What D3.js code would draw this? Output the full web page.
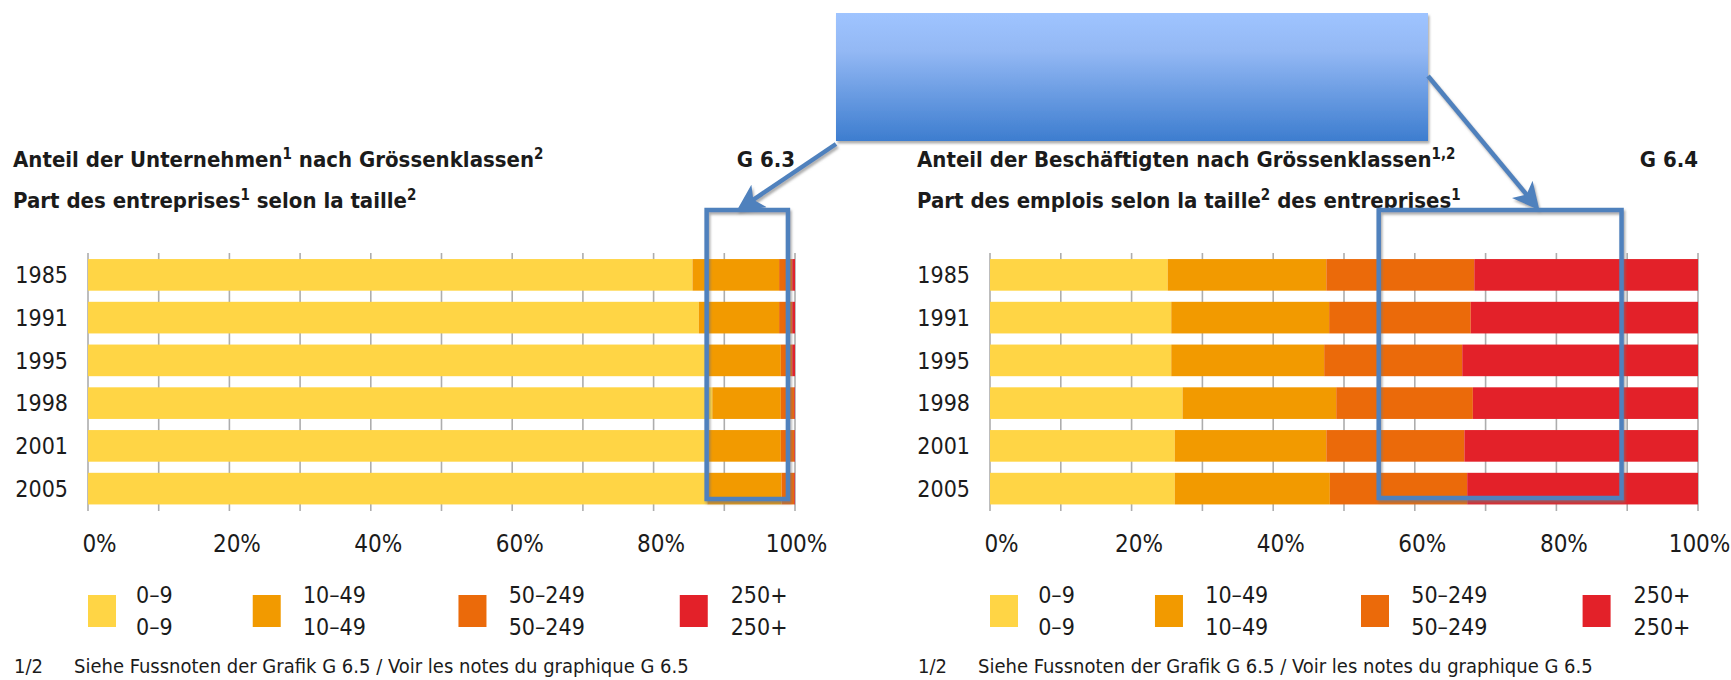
<!DOCTYPE html>
<html>
<head>
<meta charset="utf-8">
<script src="https://cdn.jsdelivr.net/npm/d3@7"></script>
<style>
  body { margin: 0; background: #fff; }
  svg { display: block; }
  text { font-family: "Liberation Sans Narrow", "Arial Narrow", "DejaVu Sans Condensed", "Liberation Sans", sans-serif; fill: #1b1b1b; }
</style>
</head>
<body>
<svg id="chart" width="1731" height="680"></svg>
<script>
// categories
const years = ["1985", "1991", "1995", "1998", "2001", "2005"];
const sizeClasses = ["0–9", "10–49", "50–249", "250+"];
const classColors = ["#ffd545", "#f29a00", "#eb6a0a", "#e32129"];
const tickValues = [0, 20, 40, 60, 80, 100];
const gridValues = [0, 10, 20, 30, 40, 50, 60, 70, 80, 90, 100];

// G 6.3 share of enterprises (%)
const firms0to9 = [85.5, 86.4, 87.3, 88.3, 87.8, 87.6];
const firms10to49 = [12.25, 11.35, 10.7, 9.7, 10.2, 10.5];
const firms50to249 = [1.85, 1.85, 1.6, 1.9, 1.9, 1.8];
const firms250plus = [0.4, 0.4, 0.4, 0.1, 0.1, 0.1];

// G 6.4 share of jobs (%)
const jobs0to9 = [25.1, 25.6, 25.6, 27.2, 26.1, 26.1];
const jobs10to49 = [22.4, 22.3, 21.6, 21.7, 21.4, 21.9];
const jobs50to249 = [20.9, 20.0, 19.5, 19.3, 19.5, 19.4];
const jobs250plus = [31.6, 32.1, 33.3, 31.8, 33.0, 32.6];

const footnote = "Siehe Fussnoten der Grafik G 6.5 / Voir les notes du graphique G 6.5";

const svg = d3.select('#chart');

// drop shadow for the call-out shapes
const defs = svg.append('defs');
defs.append('filter').attr('id', 'shadow')
  .attr('x', '-10%').attr('y', '-10%').attr('width', '130%').attr('height', '130%')
  .append('feDropShadow')
  .attr('dx', 1.5).attr('dy', 2.5).attr('stdDeviation', 0.8)
  .attr('flood-color', '#777').attr('flood-opacity', 0.6);

const grad = defs.append('linearGradient').attr('id', 'boxFill')
  .attr('x1', 0).attr('y1', 0).attr('x2', 0).attr('y2', 1);
grad.append('stop').attr('offset', '0%').attr('stop-color', '#9fc4ff');
grad.append('stop').attr('offset', '30%').attr('stop-color', '#93b8f4');
grad.append('stop').attr('offset', '100%').attr('stop-color', '#3d7dcf');

defs.append('marker').attr('id', 'arrowHead')
  .attr('viewBox', '0 0 10 10').attr('refX', 8).attr('refY', 5)
  .attr('markerWidth', 6).attr('markerHeight', 6)
  .attr('markerUnits', 'strokeWidth')
  .attr('orient', 'auto')
  .append('path').attr('d', 'M0,0 L10,5 L0,10 L2.5,5 Z').attr('fill', '#4f81bd');

// write a line of text that may carry superscript footnote marks
function titleLine(g, x, y, parts, anchor) {
  const t = g.append('text').attr('x', x).attr('y', y)
    .attr('font-size', 22).attr('font-weight', 'bold')
    .attr('text-anchor', anchor || 'start');
  let raised = false;
  parts.forEach(function (p) {
    const sup = typeof p !== 'string';
    const s = t.append('tspan').text(sup ? p.sup : p);
    if (sup && !raised) { s.attr('dy', -8).attr('font-size', 15); raised = true; }
    else if (sup) { s.attr('font-size', 15); }
    else if (raised) { s.attr('dy', 8); raised = false; }
  });
  return t;
}

function drawPanel(opts) {
  const x = d3.scaleLinear().domain([0, 100]).range([opts.x0, opts.x1]);
  const y = d3.scaleBand().domain(years).range([253.5, 510])
    .paddingInner(0.26).paddingOuter(0.13);

  const g = svg.append('g');

  // titles
  titleLine(g, opts.titleX, 167, opts.title1);
  titleLine(g, opts.titleX, 208, opts.title2);
  titleLine(g, opts.x1, 167, [opts.code], 'end');

  // vertical gridlines every 10 %
  g.append('g').selectAll('line')
    .data(gridValues).enter().append('line')
    .attr('x1', function (d) { return x(d); })
    .attr('x2', function (d) { return x(d); })
    .attr('y1', 253).attr('y2', 511)
    .attr('stroke', '#adadad').attr('stroke-width', 1.6);

  // stacked bars
  const rows = years.map(function (yr, i) {
    const r = { year: yr };
    sizeClasses.forEach(function (c, j) { r[c] = opts.series[j][i]; });
    return r;
  });
  const stacked = d3.stack().keys(sizeClasses)(rows);

  g.append('g').selectAll('g')
    .data(stacked).enter().append('g')
    .attr('fill', function (d, i) { return classColors[i]; })
    .selectAll('rect')
    .data(function (d) { return d; }).enter().append('rect')
    .attr('x', function (d) { return x(d[0]); })
    .attr('width', function (d) { return Math.max(0, x(d[1]) - x(d[0])); })
    .attr('y', function (d) { return y(d.data.year); })
    .attr('height', y.bandwidth());

  // year labels
  g.append('g').selectAll('text')
    .data(years).enter().append('text')
    .attr('x', opts.x0 - 20)
    .attr('y', function (d) { return y(d) + y.bandwidth() / 2; })
    .attr('dy', '0.36em')
    .attr('text-anchor', 'end')
    .attr('font-size', 23)
    .text(function (d) { return d; });

  // x axis labels (no axis line, just the labels under the grid)
  const axis = d3.axisBottom(x).tickValues(tickValues)
    .tickFormat(function (d) { return d + '%'; })
    .tickSize(0).tickPadding(0);
  const ax = g.append('g').attr('transform', 'translate(0,535)').call(axis);
  ax.select('.domain').remove();
  ax.selectAll('text')
    .attr('font-size', 24).attr('font-family', null).attr('fill', '#1b1b1b')
    .attr('dy', '0.36em').attr('y', 8)
    .attr('dx', function (d) { return d === 0 ? 11 : (d === 100 ? 1 : 7); });

  // legend: swatch + German / French label (identical here)
  const legendPos = [0, 23.3, 52.4, 83.7];
  const labelPos = [6.8, 30.4, 59.5, 90.9];
  const lg = g.append('g').selectAll('g')
    .data(sizeClasses).enter().append('g');
  lg.append('rect')
    .attr('x', function (d, i) { return x(legendPos[i]); })
    .attr('y', 595).attr('width', 28).attr('height', 32)
    .attr('fill', function (d, i) { return classColors[i]; });
  lg.append('text')
    .attr('x', function (d, i) { return x(labelPos[i]); })
    .attr('y', 595).attr('dy', '0.36em')
    .attr('font-size', 23).text(function (d) { return d; });
  lg.append('text')
    .attr('x', function (d, i) { return x(labelPos[i]); })
    .attr('y', 627).attr('dy', '0.36em')
    .attr('font-size', 23).text(function (d) { return d; });

  // footnote
  g.append('text').attr('x', opts.titleX + 1).attr('y', 666).attr('dy', '0.36em')
    .attr('font-size', 20).text('1/2');
  g.append('text').attr('x', opts.titleX + 61).attr('y', 666).attr('dy', '0.36em')
    .attr('font-size', 20).text(footnote);

  return x;
}

const xLeft = drawPanel({
  x0: 88, x1: 795, titleX: 13, code: 'G 6.3',
  title1: ['Anteil der Unternehmen', { sup: '1' }, ' nach Grössenklassen', { sup: '2' }],
  title2: ['Part des entreprises', { sup: '1' }, ' selon la taille', { sup: '2' }],
  series: [firms0to9, firms10to49, firms50to249, firms250plus]
});

const xRight = drawPanel({
  x0: 990, x1: 1698, titleX: 917, code: 'G 6.4',
  title1: ['Anteil der Beschäftigten nach Grössenklassen', { sup: '1,2' }],
  title2: ['Part des emplois selon la taille', { sup: '2' }, ' des entreprises', { sup: '1' }],
  series: [jobs0to9, jobs10to49, jobs50to249, jobs250plus]
});

// call-out overlay: blue box, arrows and highlight frames
const note = svg.append('g');
note.append('rect')
  .attr('x', 836).attr('y', 13).attr('width', 592).attr('height', 128)
  .attr('fill', 'url(#boxFill)').attr('filter', 'url(#shadow)');

[[836, 144, 741, 208], [1428, 76, 1536, 206]].forEach(function (a) {
  note.append('line')
    .attr('x1', a[0]).attr('y1', a[1]).attr('x2', a[2]).attr('y2', a[3])
    .attr('stroke', '#4f81bd').attr('stroke-width', 4.5)
    .attr('marker-end', 'url(#arrowHead)')
    .attr('filter', 'url(#shadow)');
});

// frames around the 85-98 % band on the left and 55-88 % band on the right
note.append('rect')
  .attr('x', xLeft(87.5)).attr('y', 210)
  .attr('width', xLeft(99) - xLeft(87.5)).attr('height', 289)
  .attr('fill', 'none').attr('stroke', '#4f81bd').attr('stroke-width', 4.5)
  .attr('filter', 'url(#shadow)');
note.append('rect')
  .attr('x', xRight(54.9)).attr('y', 210)
  .attr('width', xRight(89.2) - xRight(54.9)).attr('height', 288)
  .attr('fill', 'none').attr('stroke', '#4f81bd').attr('stroke-width', 4.5)
  .attr('filter', 'url(#shadow)');
</script>
</body>
</html>
